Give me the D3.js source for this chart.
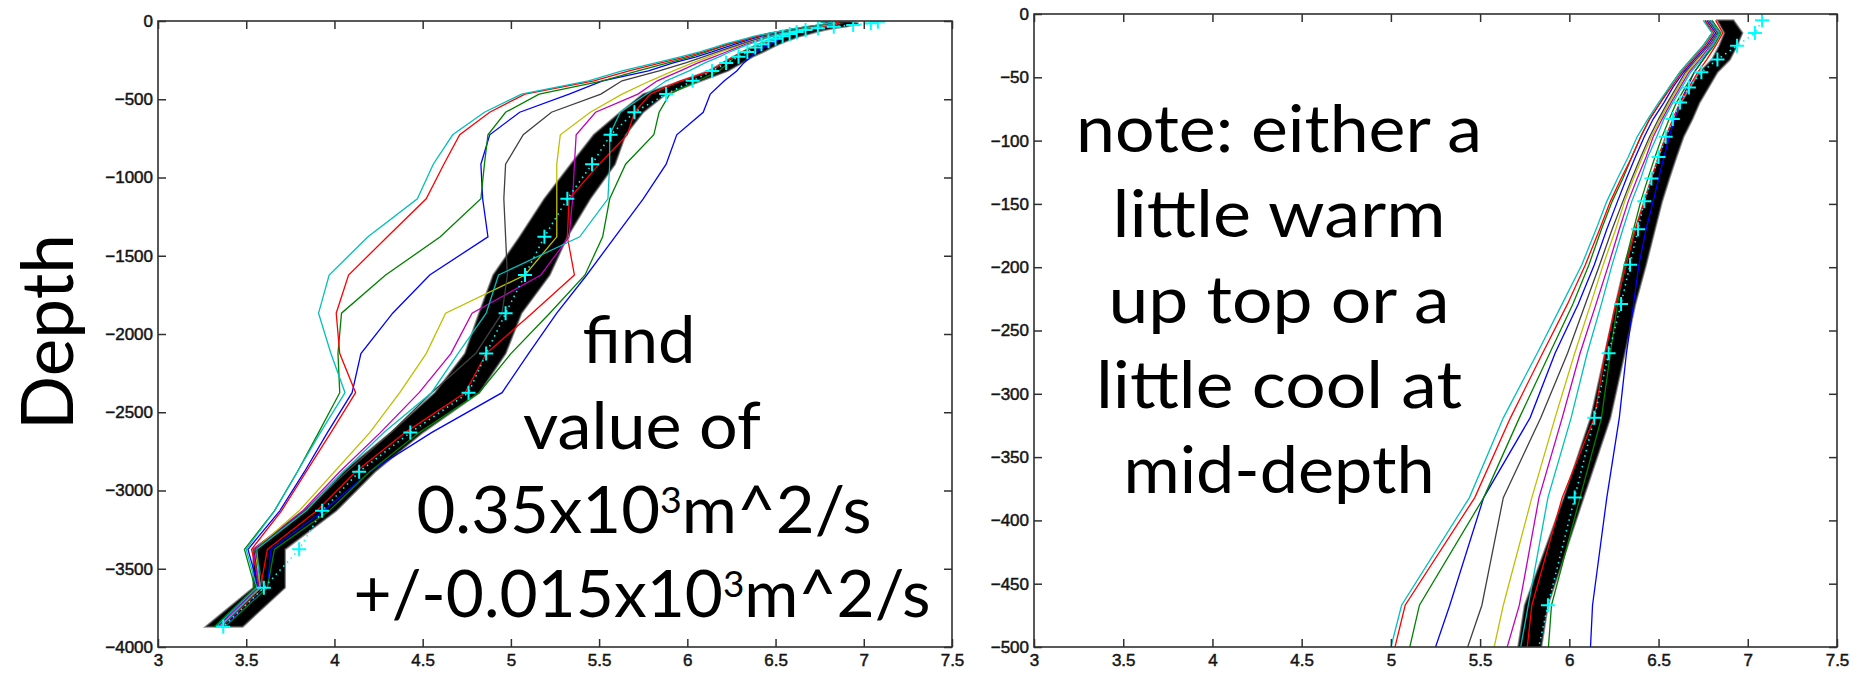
<!DOCTYPE html>
<meta charset="utf-8">
<style>
    body { margin: 0; background: #fff; }
    .tick text { font: 17px "Liberation Sans", Arial, sans-serif; fill: #151515; stroke: #151515; stroke-width: 0.5px; }
    .tick line { stroke: #303030; stroke-width: 1.5px; }
    .frame { fill: none; stroke: #303030; stroke-width: 1.6px; }
    .note { font-family: Lato, "Open Sans", sans-serif; font-size: 66px; fill: #000; text-anchor: middle; }
    .ylab { font-family: Lato, "Open Sans", sans-serif; font-size: 71px; fill: #000; text-anchor: middle; }
</style>
<svg width="1864" height="673"></svg>
<script src="https://cdn.jsdelivr.net/npm/d3@7"></script>
<script>

// model levels (m, positive down)
var levels = [5, 15, 25, 36, 46, 58, 70, 83, 97, 113, 130, 148, 170, 198, 229, 268, 319, 382, 467,
              583, 727, 915, 1136, 1379, 1623, 1867, 2125, 2375, 2630, 2880, 3130, 3376, 3621, 3870];

// observed profile (cyan + markers)
var obsTemp = [7.08, 7.04, 6.94, 6.83, 6.74, 6.67, 6.62, 6.58, 6.54, 6.50, 6.46, 6.42, 6.385, 6.34, 6.29, 6.22, 6.14, 6.03, 5.88,
               5.70, 5.565, 5.46, 5.32, 5.19, 5.08, 4.97, 4.86, 4.76, 4.43, 4.14, 3.93, 3.80, 3.60, 3.37];

// spread of the ensemble runs (black bundle)
var ensLow  = [6.83, 6.87, 6.84, 6.80, 6.73, 6.68, 6.63, 6.59, 6.54, 6.50, 6.46, 6.42, 6.37, 6.31, 6.26, 6.20, 6.12, 5.97, 5.75,
               5.62, 5.47, 5.34, 5.19, 5.05, 4.90, 4.82, 4.74, 4.57, 4.32, 4.05, 3.83, 3.54, 3.54, 3.27];
var ensHigh = [6.92, 6.97, 6.94, 6.90, 6.83, 6.78, 6.73, 6.69, 6.64, 6.60, 6.56, 6.52, 6.48, 6.43, 6.37, 6.31, 6.23, 6.08, 5.88,
               5.75, 5.65, 5.59, 5.45, 5.32, 5.22, 5.06, 4.97, 4.82, 4.50, 4.23, 4.01, 3.72, 3.72, 3.48];

// individual runs, plotted in matlab colour order b g r c m y k b g r c
var runB1 = [6.77, 6.82, 6.77, 6.70, 6.64, 6.58, 6.53, 6.47, 6.42, 6.37, 6.32, 6.27, 6.21, 6.14, 6.05, 5.92, 5.78, 5.52, 5.33,
             5.05, 4.88, 4.83, 4.84, 4.87, 4.54, 4.33, 4.15, 4.10, 3.96, 3.83, 3.69, 3.51, 3.57, 3.34];
var runG1 = [6.76, 6.80, 6.75, 6.68, 6.62, 6.56, 6.51, 6.45, 6.40, 6.35, 6.30, 6.24, 6.18, 6.11, 6.02, 5.89, 5.72, 5.52, 5.16,
             4.97, 4.87, 4.85, 4.83, 4.60, 4.29, 4.04, 4.02, 4.03, 3.91, 3.79, 3.66, 3.49, 3.55, 3.32];
var runR1 = [6.76, 6.81, 6.76, 6.69, 6.63, 6.57, 6.51, 6.45, 6.40, 6.35, 6.29, 6.23, 6.17, 6.09, 5.99, 5.85, 5.67, 5.47, 5.08,
             4.88, 4.71, 4.62, 4.52, 4.30, 4.08, 4.01, 4.03, 4.12, 3.98, 3.84, 3.70, 3.53, 3.58, 3.34];
var runC1 = [6.75, 6.80, 6.75, 6.68, 6.62, 6.56, 6.50, 6.44, 6.38, 6.33, 6.27, 6.21, 6.15, 6.07, 5.96, 5.82, 5.63, 5.44, 5.06,
             4.85, 4.67, 4.56, 4.47, 4.19, 3.97, 3.91, 3.98, 4.06, 3.92, 3.79, 3.66, 3.50, 3.56, 3.33];
var runM1 = [6.79, 6.84, 6.79, 6.73, 6.67, 6.62, 6.57, 6.52, 6.47, 6.43, 6.38, 6.33, 6.28, 6.22, 6.15, 6.06, 5.96, 5.83, 5.72,
             5.48, 5.37, 5.36, 5.35, 5.33, 5.17, 4.78, 4.66, 4.48, 4.26, 4.03, 3.82, 3.54, 3.57, 3.34];
var runY1 = [6.78, 6.83, 6.78, 6.72, 6.66, 6.61, 6.56, 6.51, 6.46, 6.41, 6.36, 6.31, 6.26, 6.19, 6.12, 6.03, 5.92, 5.79, 5.63,
             5.45, 5.28, 5.26, 5.26, 5.26, 5.08, 4.63, 4.52, 4.37, 4.20, 4.00, 3.80, 3.55, 3.58, 3.35];
var runK1 = [6.78, 6.83, 6.78, 6.71, 6.65, 6.60, 6.55, 6.50, 6.45, 6.40, 6.35, 6.30, 6.24, 6.17, 6.09, 5.99, 5.84, 5.63, 5.51,
             5.23, 5.07, 4.97, 4.96, 4.97, 4.98, 4.95, 4.80, 4.55, 4.32, 4.07, 3.83, 3.55, 3.60, 3.36];
var runB2 = [6.79, 6.84, 6.80, 6.75, 6.70, 6.66, 6.62, 6.59, 6.56, 6.53, 6.50, 6.47, 6.43, 6.39, 6.36, 6.32, 6.28, 6.21, 6.13,
             6.09, 5.94, 5.88, 5.75, 5.59, 5.43, 5.26, 5.10, 4.95, 4.55, 4.20, 3.94, 3.64, 3.62, 3.37];
var runG2 = [6.80, 6.85, 6.81, 6.75, 6.70, 6.65, 6.60, 6.56, 6.52, 6.48, 6.44, 6.40, 6.36, 6.31, 6.27, 6.23, 6.18, 6.06, 5.90,
             5.84, 5.81, 5.65, 5.56, 5.52, 5.42, 5.22, 5.00, 4.82, 4.48, 4.20, 3.97, 3.66, 3.62, 3.38];
var runR2 = [6.82, 6.86, 6.82, 6.77, 6.72, 6.67, 6.62, 6.58, 6.54, 6.50, 6.46, 6.42, 6.37, 6.32, 6.26, 6.20, 6.14, 5.96, 5.79,
             5.70, 5.66, 5.50, 5.33, 5.32, 5.36, 5.12, 4.86, 4.74, 4.40, 4.12, 3.90, 3.62, 3.58, 3.36];
var runC2 = [6.79, 6.84, 6.80, 6.74, 6.68, 6.63, 6.58, 6.53, 6.49, 6.44, 6.40, 6.35, 6.30, 6.24, 6.18, 6.10, 6.01, 5.88, 5.77,
             5.62, 5.56, 5.56, 5.55, 5.39, 4.93, 4.86, 4.70, 4.55, 4.28, 4.05, 3.84, 3.56, 3.58, 3.35];

// tick labels
var tempTicks = [3, 3.5, 4, 4.5, 5, 5.5, 6, 6.5, 7, 7.5];
var fullDepthTicks = [0, -500, -1000, -1500, -2000, -2500, -3000, -3500, -4000];
var topDepthTicks = [0, -50, -100, -150, -200, -250, -300, -350, -400, -450, -500];

// slide text
var rightLines = ["note: either a", "little warm", "up top or a", "little cool at", "mid-depth"];

var runs = [runB1, runG1, runR1, runC1, runM1, runY1, runK1, runB2, runG2, runR2, runC2];
var runColors = ["#0000ff", "#008000", "#ff0000", "#00bfbf", "#bf00bf", "#bfbf00", "#404040",
                 "#0000ff", "#008000", "#ff0000", "#00bfbf"];

var svg = d3.select("svg");

var panels = [
    {id: "full", left: 158, right: 952, top: 21, bottom: 647, depth: [0, -4000], ticks: fullDepthTicks},
    {id: "top", left: 1034, right: 1837, top: 14, bottom: 647, depth: [0, -500], ticks: topDepthTicks}
];

function fmt(d) { return String(d).replace("-", "\u2212"); }

panels.forEach(function(p) {
    var x = d3.scaleLinear().domain([3, 7.5]).range([p.left, p.right]),
        y = d3.scaleLinear().domain(p.depth).range([p.top, p.bottom]);

    svg.append("clipPath").attr("id", "clip-" + p.id)
      .append("rect")
        .attr("x", p.left).attr("y", p.top)
        .attr("width", p.right - p.left).attr("height", p.bottom - p.top);

    var g = svg.append("g").attr("clip-path", "url(#clip-" + p.id + ")");

    // ensemble bundle
    var band = d3.area()
        .y(function(d, i) { return y(-levels[i]); })
        .x0(function(d, i) { return x(ensLow[i]); })
        .x1(function(d, i) { return x(ensHigh[i]); });

    g.append("path")
        .attr("d", band(levels))
        .attr("fill", "#000")
        .attr("stroke", "#444")
        .attr("stroke-width", 2)
        .attr("stroke-opacity", 0.6);

    var line = d3.line()
        .x(function(d) { return x(d); })
        .y(function(d, i) { return y(-levels[i]); });

    g.selectAll(".run")
      .data(runs)
      .enter().append("path")
        .attr("class", "run")
        .attr("d", line)
        .attr("fill", "none")
        .attr("stroke", function(d, i) { return runColors[i]; })
        .attr("stroke-width", 1.3);

    // observations: dotted line plus '+' markers
    g.append("path")
        .attr("d", line(obsTemp))
        .attr("fill", "none")
        .attr("stroke", "#00ffff")
        .attr("stroke-width", 1.6)
        .attr("stroke-dasharray", "1.5,4");

    g.selectAll(".obs")
      .data(obsTemp)
      .enter().append("path")
        .attr("class", "obs")
        .attr("d", function(d, i) {
            var px = x(d), py = y(-levels[i]);
            return "M" + (px - 7) + "," + py + "H" + (px + 7) + "M" + px + "," + (py - 7) + "V" + (py + 7);
        })
        .attr("stroke", "#00ffff")
        .attr("stroke-width", 2);

    // axes, ticks pointing inward on all sides
    svg.append("g")
        .attr("transform", "translate(0," + p.bottom + ")")
        .call(d3.axisBottom(x).tickValues(tempTicks).tickSize(-8).tickPadding(7).tickFormat(fmt));
    svg.append("g")
        .attr("transform", "translate(0," + p.top + ")")
        .call(d3.axisTop(x).tickValues(tempTicks).tickSize(-8).tickFormat(""));
    svg.append("g")
        .attr("transform", "translate(" + p.left + ",0)")
        .call(d3.axisLeft(y).tickValues(p.ticks).tickSize(-8).tickPadding(5).tickFormat(fmt));
    svg.append("g")
        .attr("transform", "translate(" + p.right + ",0)")
        .call(d3.axisRight(y).tickValues(p.ticks).tickSize(-8).tickFormat(""));

    svg.append("rect")
        .attr("class", "frame")
        .attr("x", p.left).attr("y", p.top)
        .attr("width", p.right - p.left).attr("height", p.bottom - p.top);
});

svg.selectAll(".domain").remove();

// y label
svg.append("text")
    .attr("class", "ylab")
    .attr("transform", "translate(73,332) rotate(-90)")
    .attr("textLength", 196)
    .attr("lengthAdjust", "spacingAndGlyphs")
    .text("Depth");

// slide annotations
function note(cx, cy, w) {
    return svg.append("text")
        .attr("class", "note")
        .attr("x", cx).attr("y", cy)
        .attr("textLength", w)
        .attr("lengthAdjust", "spacingAndGlyphs");
}
function withPower(t, pre, post) {
    t.append("tspan").text(pre);
    t.append("tspan").attr("dy", -20).style("font-size", "37px").text("3");
    t.append("tspan").attr("dy", 20).text(post);
}

note(639, 363, 113).text("find");
note(642, 449, 238).text("value of");
withPower(note(644, 533, 455), "0.35x10", "m^2/s");
withPower(note(642, 617, 577), "+/-0.015x10", "m^2/s");

var rightWidths = [406, 333, 341, 366, 311];
rightLines.forEach(function(s, i) {
    note(1279, 152 + i * 85.3, rightWidths[i]).text(s);
});

</script>
